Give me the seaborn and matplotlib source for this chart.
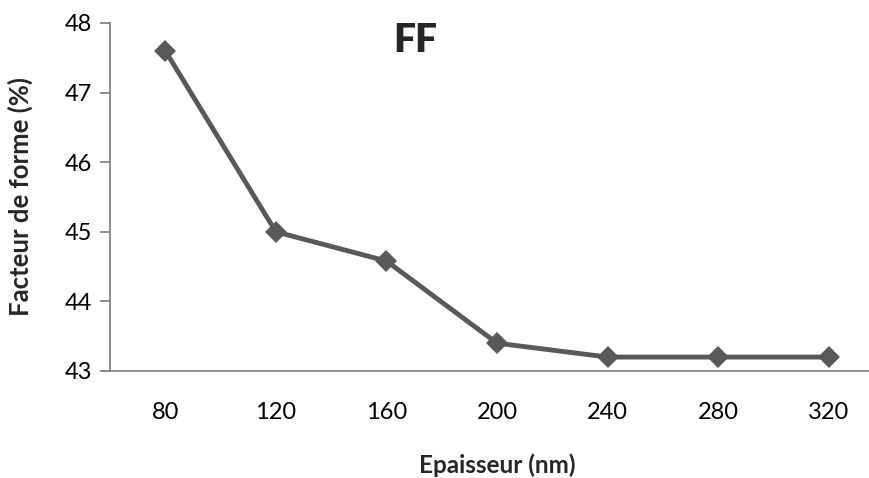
import matplotlib
matplotlib.use("Agg")
import matplotlib.pyplot as plt
import seaborn as sns
import pandas as pd

# Fill factor versus layer thickness
epaisseur = ["80", "120", "160", "200", "240", "280", "320"]
facteur_forme = [47.6, 45.0, 44.58, 43.4, 43.2, 43.2, 43.2]

df = pd.DataFrame({"epaisseur": epaisseur, "ff": facteur_forme})

sns.set_theme(style="white")
plt.rcParams["font.family"] = ["Lato", "DejaVu Sans"]

fig = plt.figure(figsize=(8.69, 4.78), dpi=100)
ax = fig.add_axes([110 / 869, 1 - 371 / 478, 774 / 869, 348 / 478])

x = list(range(len(epaisseur)))
sns.lineplot(x=x, y=df["ff"], ax=ax, color="#595959", linewidth=3.5,
             marker="D", markersize=11, markeredgewidth=0, legend=False)

ax.set_xlim(-0.5, len(epaisseur) - 0.5)
ax.set_ylim(43, 48)
ax.set_yticks([43, 44, 45, 46, 47, 48])
ax.set_xticks(x)
ax.set_xticklabels(epaisseur)

axis_col = "#868686"
for side in ["top", "right"]:
    ax.spines[side].set_visible(False)
for side in ["left", "bottom"]:
    ax.spines[side].set_color(axis_col)
    ax.spines[side].set_linewidth(1.3)

ax.tick_params(axis="y", left=True, length=7, width=1.3, color=axis_col,
               labelsize=17, labelcolor="black", pad=6)
ax.tick_params(axis="x", bottom=False, labelsize=17, labelcolor="black", pad=16)

ax.set_xlabel("Epaisseur (nm)", fontsize=17.5, fontweight="bold", va="center")
ax.set_ylabel("Facteur de forme (%)", fontsize=18.5, fontweight="bold", va="center")
ax.xaxis.set_label_coords((497 - 110) / 774, -(465 - 371) / 348)
ax.yaxis.set_label_coords(-(110 - 20) / 774, (371 - 197) / 348)

ax.text((415 - 110) / 774, (371 - 41) / 348, "FF", transform=ax.transAxes,
        fontsize=28, fontweight="heavy", ha="center", va="center")

# extend the bottom axis slightly to the left of the vertical axis
ax.plot([-0.5 - 8 / 110.5, -0.5], [43, 43], color=axis_col, lw=1.3,
        clip_on=False, solid_capstyle="butt")

fig.savefig("out.png", dpi=100)
